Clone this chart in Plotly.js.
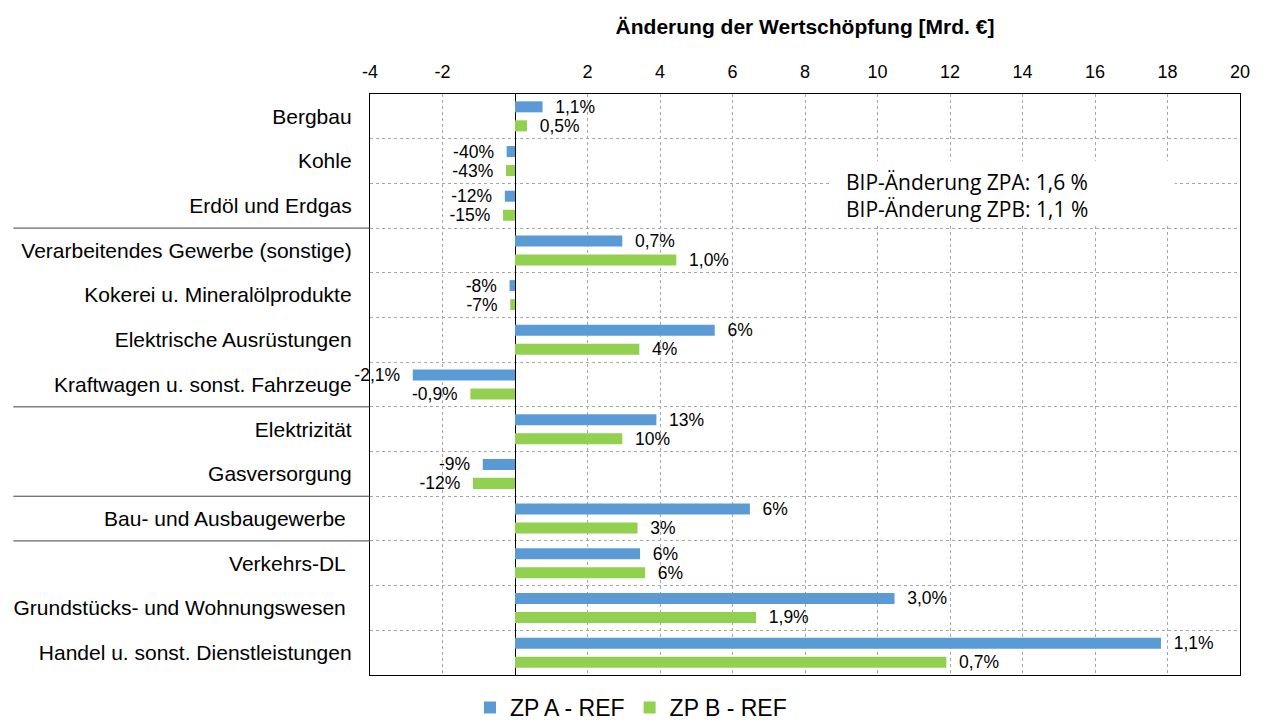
<!DOCTYPE html>
<html>
<head>
<meta charset="utf-8">
<script src="https://cdn.plot.ly/plotly-3.0.1.min.js"></script>
<style>html,body{margin:0;padding:0;background:#fff;}#chart{width:1263px;height:720px;}</style>
</head>
<body>
<div id="chart"></div>
<script>
const categories = ['Bergbau','Kohle','Erdöl und Erdgas','Verarbeitendes Gewerbe (sonstige)','Kokerei u. Mineralölprodukte','Elektrische Ausrüstungen','Kraftwagen u. sonst. Fahrzeuge','Elektrizität','Gasversorgung','Bau- und Ausbaugewerbe','Verkehrs-DL','Grundstücks- und Wohnungswesen','Handel u. sonst. Dienstleistungen'];
const tickLabels = ['Bergbau','Kohle','Erdöl und Erdgas','Verarbeitendes Gewerbe (sonstige)','Kokerei u. Mineralölprodukte','Elektrische Ausrüstungen','Kraftwagen u. sonst. Fahrzeuge','Elektrizität','Gasversorgung','Bau- und Ausbaugewerbe\u00a0','Verkehrs-DL\u00a0','Grundstücks- und Wohnungswesen\u00a0','Handel u. sonst. Dienstleistungen'];
const zpA = [0.76,-0.23,-0.28,2.96,-0.15,5.51,-2.82,3.90,-0.89,6.48,3.45,10.47,17.82];
const zpB = [0.33,-0.25,-0.33,4.45,-0.13,3.43,-1.23,2.96,-1.16,3.38,3.59,6.65,11.90];
const labelsA = ['1,1%','-40%','-12%','0,7%','-8%','6%','-2,1%','13%','-9%','6%','6%','3,0%','1,1%'];
const labelsB = ['0,5%','-43%','-15%','1,0%','-7%','4%','-0,9%','10%','-12%','3%','6%','1,9%','0,7%'];
const xTicks = [-4,-2,2,4,6,8,10,12,14,16,18,20];
const seriesNames = ['ZP A - REF','ZP B - REF'];
const separators = [2.5,6.5,8.5,9.5];
const bipText = 'BIP-Änderung ZPA: 1,6 %<br>BIP-Änderung ZPB: 1,1 %';

function tmpl(vals){
  return vals.map(v => v >= 0 ? '\u00a0\u00a0%{text}' : '%{text}\u00a0\u00a0');
}

const common = {
  type:'bar', orientation:'h', y:categories,
  textposition:'outside', cliponaxis:false, constraintext:'none',
  textfont:{family:'Liberation Sans, Arial, sans-serif', size:17.5, color:'#000'},
  hoverinfo:'x+y'
};
const traces = [
  Object.assign({}, common, {name:seriesNames[0], x:zpA, text:labelsA, texttemplate:tmpl(zpA), marker:{color:'#5B9BD5'}}),
  Object.assign({}, common, {name:seriesNames[1], x:zpB, text:labelsB, texttemplate:tmpl(zpB), marker:{color:'#92D050'}})
];

const shapes = separators.map(s => ({type:'line', xref:'paper', yref:'y', x0:-0.41, x1:0, y0:s, y1:s, line:{color:'#404040', width:1}}));
shapes.push({type:'rect', layer:'above', xref:'paper', yref:'paper', x0:0.529, x1:0.925, y0:0.774, y1:0.885, fillcolor:'#fff', line:{width:0}});

const layout = {
  width:1263, height:720,
  margin:{l:370, r:23, t:94, b:45, autoexpand:false},
  paper_bgcolor:'#fff', plot_bgcolor:'#fff',
  barmode:'group', bargap:0.15, bargroupgap:0.42,
  font:{family:'Liberation Sans, Arial, sans-serif', color:'#000'},
  xaxis:{
    side:'top', range:[-4,20], tickvals:xTicks, ticktext:xTicks.map(String),
    ticks:'', ticklabelstandoff:8,
    tickfont:{family:'Liberation Sans Narrow, Arial Narrow, Liberation Sans, sans-serif', size:18, color:'#000'},
    showgrid:true, gridcolor:'#a6a6a6', griddash:'dot', gridwidth:1,
    zeroline:true, zerolinecolor:'#000', zerolinewidth:1,
    showline:true, mirror:true, linecolor:'#000', linewidth:1.3,
    title:{text:'Änderung der Wertschöpfung [Mrd. €]', standoff:21,
      font:{family:'Liberation Sans Narrow, Arial Narrow, Liberation Sans, sans-serif', size:21, weight:'bold', color:'#000'}},
    fixedrange:true
  },
  yaxis:{
    type:'category', autorange:'reversed', tickvals:categories, ticktext:tickLabels,
    tickson:'boundaries', ticks:'', ticklabelstandoff:13,
    tickfont:{family:'Liberation Sans, Arial, sans-serif', size:21, color:'#000'},
    showgrid:true, gridcolor:'#a6a6a6', griddash:'dot', gridwidth:1,
    showline:true, mirror:true, linecolor:'#000', linewidth:1.3,
    fixedrange:true
  },
  shapes:shapes,
  annotations:[{
    xref:'paper', yref:'paper', x:0.545, y:0.826, xanchor:'left', yanchor:'middle',
    text:bipText, showarrow:false, align:'left',
    font:{family:'Open Sans, Noto Sans, sans-serif', size:21, color:'#000'}
  }],
  legend:{orientation:'h', x:0.30, xanchor:'center', y:-0.056, yanchor:'middle',
    font:{family:'Liberation Sans, Arial, sans-serif', size:23, color:'#000'}, traceorder:'normal', itemwidth:30},
  showlegend:true
};

Plotly.newPlot('chart', traces, layout, {displayModeBar:false, staticPlot:false});
</script>
</body>
</html>
